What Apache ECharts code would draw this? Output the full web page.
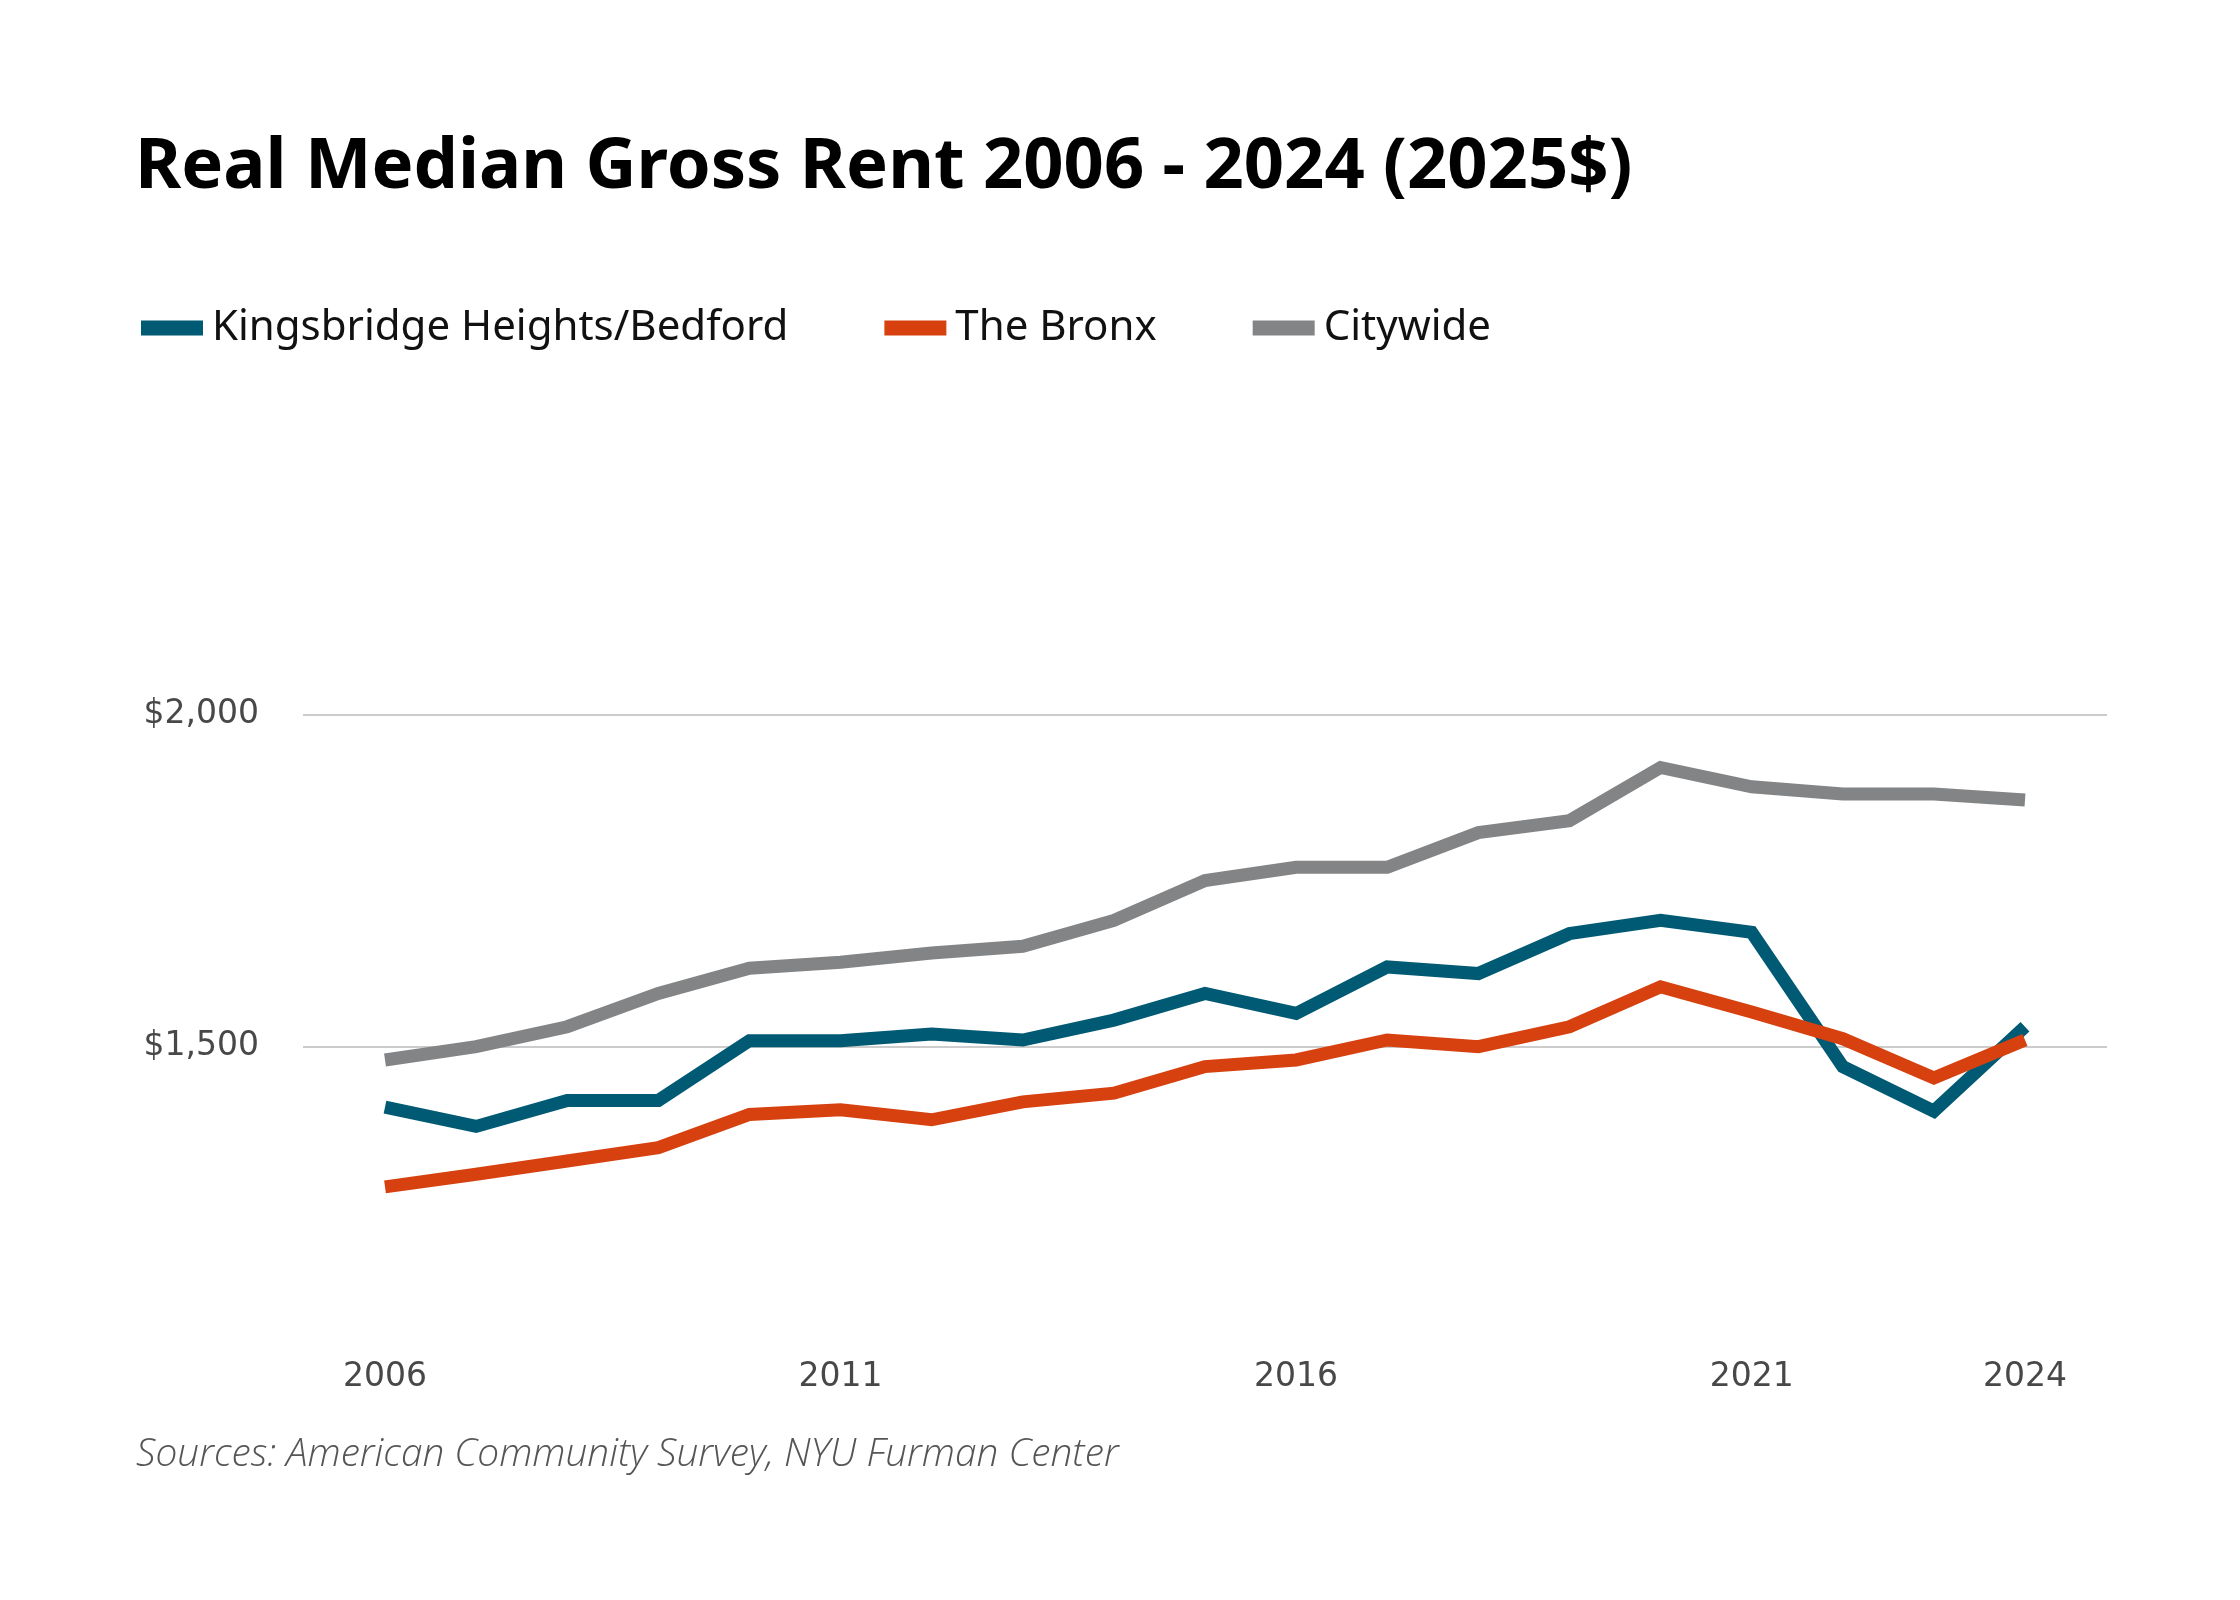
<!DOCTYPE html>
<html>
<head>
<meta charset="utf-8">
<script src="https://cdn.jsdelivr.net/npm/echarts@6/dist/echarts.min.js"></script>
<style>
  html, body { margin: 0; padding: 0; background: #fff; }
  #main { width: 2240px; height: 1600px; }
</style>
</head>
<body>
<div id="main"></div>
<script>
/* data */
var years = [2006, 2007, 2008, 2009, 2010, 2011, 2012, 2013, 2014, 2015,
             2016, 2017, 2018, 2019, 2020, 2021, 2022, 2023, 2024];
var kingsbridge = [1409, 1380, 1419, 1419, 1509, 1509, 1519, 1510, 1540, 1580,
                   1550, 1620, 1610, 1670, 1690, 1672, 1470, 1403, 1530];
var bronx = [1289, 1308, 1328, 1348, 1398, 1405, 1390, 1417, 1430, 1470,
             1480, 1510, 1500, 1530, 1590, 1552, 1512, 1453, 1510];
var citywide = [1480, 1500, 1530, 1580, 1618, 1627, 1641, 1651, 1690, 1750,
                1770, 1770, 1822, 1840, 1920, 1891, 1880, 1880, 1871];
var seriesNames = ['Kingsbridge Heights/Bedford', 'The Bronx', 'Citywide'];
var seriesColors = ['#005a73', '#d6410f', '#838486'];
var xTickYears = [2006, 2011, 2016, 2021, 2024];
var yTickValues = [1500, 2000];

function pairs(vals) {
    return years.map(function (y, i) { return [y, vals[i]]; });
}

var chart = echarts.init(document.getElementById('main'));

var lineSeries = [kingsbridge, bronx, citywide].map(function (vals, i) {
    return {
        name: seriesNames[i],
        type: 'line',
        data: pairs(vals),
        showSymbol: false,
        symbol: 'none',
        silent: true,
        lineStyle: { color: seriesColors[i], width: 13, cap: 'butt', join: 'miter' },
        itemStyle: { color: seriesColors[i] }
    };
});

var option = {
    backgroundColor: '#ffffff',
    animation: false,
    color: seriesColors,
    title: [
        {
            text: 'Real Median Gross Rent 2006 - 2024 (2025$)',
            left: 130,
            top: 127,
            textStyle: {
                fontFamily: 'Noto Sans',
                fontWeight: 'bold',
                fontSize: 70.5,
                color: '#000'
            }
        },
        {
            text: 'Sources: American Community Survey, NYU Furman Center',
            left: 131,
            top: 1430,
            textStyle: {
                fontFamily: 'Open Sans',
                fontStyle: 'italic',
                fontWeight: 300,
                fontSize: 38.8,
                color: '#555'
            }
        }
    ],
    legend: {
        left: 136,
        top: 302,
        icon: 'rect',
        itemWidth: 62,
        itemHeight: 15,
        itemGap: 96,
        textStyle: {
            fontFamily: 'Noto Sans',
            fontSize: 42,
            color: '#111',
            padding: [0, 0, 0, 4]
        },
        data: seriesNames
    },
    grid: {
        left: 303,
        right: 133,
        top: 382,
        bottom: 221,
        containLabel: false
    },
    xAxis: {
        type: 'value',
        min: 2005.1,
        max: 2024.9,
        offset: -34,
        axisLine: { show: false },
        axisTick: { show: false },
        splitLine: { show: false },
        axisLabel: {
            customValues: xTickYears,
            margin: 16,
            fontFamily: 'DejaVu Sans',
            fontSize: 33,
            color: '#484848',
            formatter: function (v) { return String(v); }
        }
    },
    yAxis: {
        type: 'value',
        min: 1000,
        max: 2500,
        interval: 500,
        axisLine: { show: false },
        axisTick: { show: false },
        splitLine: {
            show: true,
            lineStyle: {
                color: ['rgba(0,0,0,0)', '#cccccc', '#cccccc', 'rgba(0,0,0,0)'],
                width: 2
            }
        },
        axisLabel: {
            margin: 44,
            fontFamily: 'DejaVu Sans',
            fontSize: 33,
            color: '#484848',
            padding: [6, 0, 0, 0],
            formatter: function (v) {
                if (yTickValues.indexOf(v) < 0) return '';
                return '$' + v.toLocaleString('en-US');
            }
        }
    },
    series: lineSeries
};

chart.setOption(option);
</script>
</body>
</html>
